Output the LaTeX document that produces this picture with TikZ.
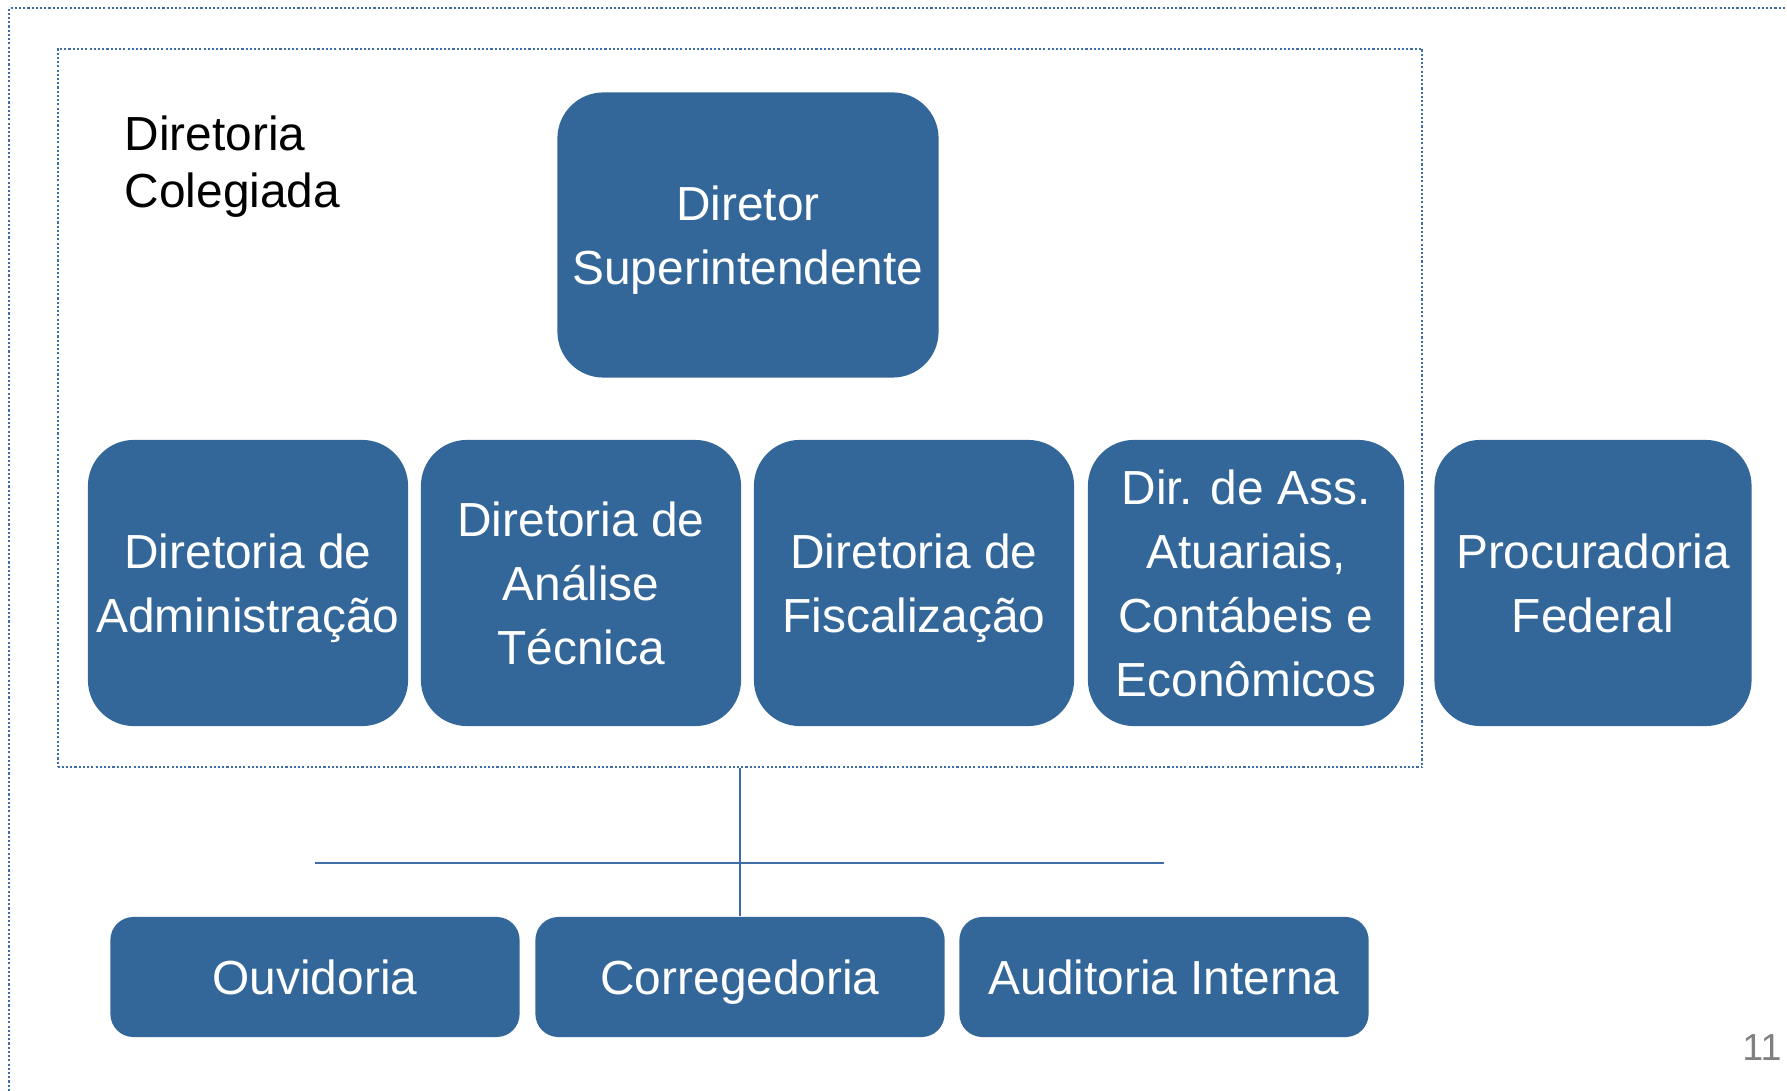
\documentclass[tikz,border=0pt]{standalone}
\usepackage{fontspec}
\setmainfont{Liberation Sans}
\usetikzlibrary{positioning}
\definecolor{caixaazul}{RGB}{52,103,153}
\definecolor{linhaazul}{RGB}{62,110,165}
\tikzset{
    unidade/.style={fill=caixaazul,text=white,align=center,inner sep=0pt,text depth=0pt,
        rounded corners=0.46cm,minimum width=3.2cm,minimum height=2.86cm,
        font=\fontsize{13.6}{18.2}\selectfont},
    orgao/.style={unidade,rounded corners=0.23cm,minimum width=4.09cm,minimum height=1.2cm},
    pontilhado/.style={draw=linhaazul,line width=0.6pt,dash pattern=on 0.6pt off 0.6pt},
    ligacao/.style={draw=linhaazul,line width=0.6pt}
}

\begin{document}
\begin{tikzpicture}[x=0.01cm,y=-0.01cm]
            \useasboundingbox (0,0) rectangle (1787,1091);
            \draw[pontilhado] (9,1091)--(9,8)--(1787,8);
            \node[pontilhado,inner sep=0pt,minimum width=13.64cm,minimum height=7.18cm] (colegiada) at (740,408) {};
            \node[anchor=west,align=left,inner sep=0pt,font=\fontsize{13.6}{16.2}\selectfont] (titulo) at (124,167) {Diretoria\\Colegiada};
            \node[unidade,minimum width=3.81cm,minimum height=2.85cm] (diretor) at (748,235) {Diretor\\Superintendente};
            \node[unidade] (adm) at (248,583) {Diretoria de\\Administração};
            \node[unidade] (analise) at (581,583) {Diretoria de\\Análise\\Técnica};
            \node[unidade] (fisc) at (914,583) {Diretoria de\\Fiscalização};
            \node[unidade,minimum width=3.16cm] (atuariais) at (1246,583) {Dir. de Ass.\\Atuariais,\\Contábeis e\\Econômicos};
            \node[unidade,minimum width=3.17cm] (procuradoria) at (1593,583) {Procuradoria\\Federal};
            \node[orgao] (ouvid) at (315,977) {Ouvidoria};
            \node[orgao] (correg) at (740,977) {Corregedoria};
            \node[orgao] (audit) at (1164,977) {Auditoria Interna};
            \draw[ligacao] (colegiada.south)--(correg.north);
            \draw[ligacao] ([yshift=5.3mm]ouvid.north)--([yshift=5.3mm]audit.north);
            \node[text=gray,font=\fontsize{10.7}{12}\selectfont] (pagina) at (1762,1048) {11};
        \end{tikzpicture}
\end{document}
